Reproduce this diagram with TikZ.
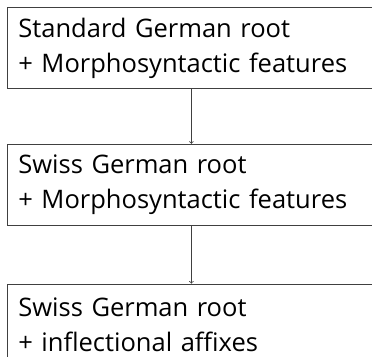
\documentclass[tikz,border=0pt]{standalone}
\usepackage{fontspec}
\setmainfont{Open Sans}
\usetikzlibrary{positioning}

\begin{document}
\begin{tikzpicture}[>=to, line width=0.8pt,
    stage/.style={draw=black!75, anchor=north west, inner xsep=11pt, inner ysep=0pt,
        text width=346pt, minimum height=81pt, align=left,
        font=\fontsize{25.5}{35}\selectfont}]
    \useasboundingbox (0,0) rectangle (372pt,-356pt);

    % Stages
    \node[stage] (sgroot) at (7pt,-7pt) {Standard German root\\+ Morphosyntactic features};
    \node[stage, below=55pt of sgroot.south west, anchor=north west] (chroot) {Swiss German root\\+ Morphosyntactic features};
    \node[stage, below=58pt of chroot.south west, anchor=north west] (chinfl) {Swiss German root\\+ inflectional affixes};

    % Arrows
    \draw[->, draw=black!75] (sgroot) -- (chroot);
    \draw[->, draw=black!75] (chroot) -- (chinfl);
\end{tikzpicture}
\end{document}
